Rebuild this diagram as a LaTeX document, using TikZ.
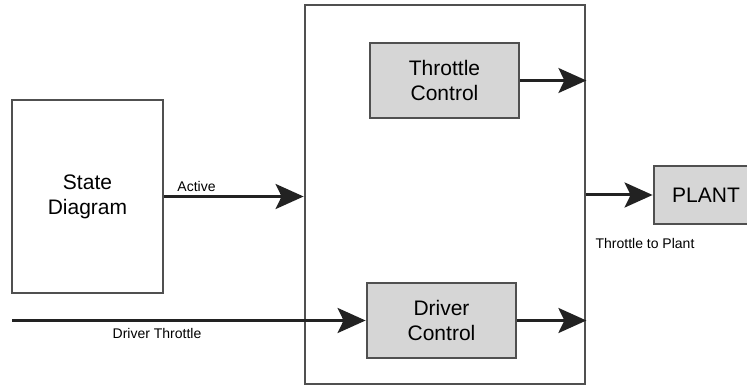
\documentclass[tikz,border=0pt]{standalone}
\usepackage{fontspec}
\setmainfont{Liberation Sans}
\usetikzlibrary{arrows.meta}
\definecolor{boxline}{HTML}{505050}
\definecolor{boxfill}{HTML}{D6D6D6}
\definecolor{arrowcol}{HTML}{222222}
\tikzset{
  plainbox/.style={draw=boxline, line width=2.8pt, fill=white, inner sep=0pt, align=center,
    font=\fontsize{21}{25}\selectfont},
  graybox/.style={plainbox, fill=boxfill},
  flow/.style={draw=arrowcol, line width=3pt, -{Stealth[length=28pt,width=25pt,inset=6pt]}},
  thinflow/.style={flow, line width=2.2pt},
  lbl/.style={font=\fontsize{14}{16}\selectfont, inner sep=0pt}
}
\begin{document}
\begin{tikzpicture}[x=1pt,y=-1pt]
\useasboundingbox (0,0) rectangle (747,387);
\node[plainbox, minimum width=151pt, minimum height=193pt] (sd) at (87.5,196.5) {State\\Diagram};
\node[plainbox, minimum width=280pt, minimum height=379pt] (big) at (445,194.5) {};
\node[graybox, minimum width=149pt, minimum height=75pt] (tc) at (444.5,80.5) {Throttle\\Control};
\node[graybox, minimum width=149pt, minimum height=75pt] (dc) at (441.5,320.5) {Driver\\Control};
\node[graybox, minimum width=104pt, minimum height=58pt] (plant) at (706,195) {PLANT};
\coordinate (dtin) at (12,320.5);
\draw[flow] (sd.east) -- (sd.east -| big.west);
\draw[flow] (dtin) -- (dc.west);
\draw[thinflow] (tc.east) -- (tc.east -| big.east);
\draw[flow] (dc.east) -- (dc.east -| big.east);
\draw[flow] (plant.west -| big.east) -- (plant.west);
\node[lbl] (lactive) at (196.5,186) {Active};
\node[lbl] (ldt) at (157,333) {Driver Throttle};
\node[lbl] (ltp) at (645,243) {Throttle to Plant};
\end{tikzpicture}
\end{document}
